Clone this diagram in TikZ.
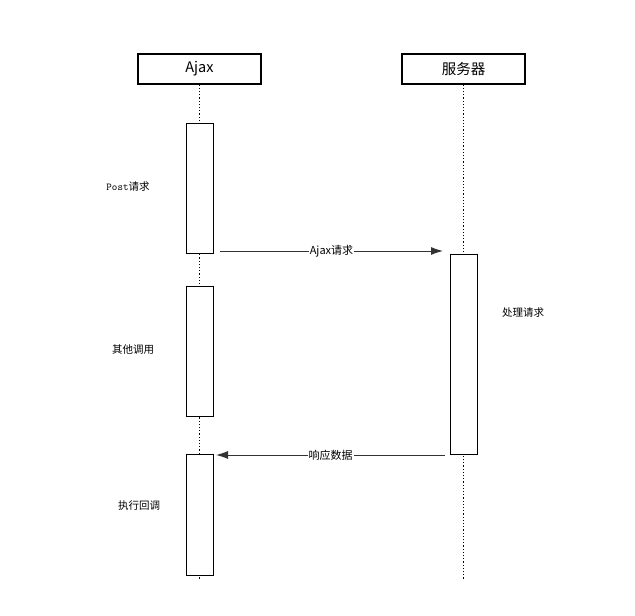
\documentclass[tikz,border=0pt]{standalone}
\usepackage{fontspec}
\newfontfamily\cjk{Noto Sans CJK SC}
\usetikzlibrary{arrows.meta}
\begin{document}
\begin{tikzpicture}[x=1pt,y=-1pt,
  head/.style={draw,line width=1.2pt,minimum width=123pt,minimum height=30pt,inner sep=0pt,font=\fontsize{14.5}{16}\selectfont\cjk},
  act/.style={draw,line width=1pt,fill=white,minimum width=27pt,inner sep=0pt},
  life/.style={line width=1.2pt,dotted},
  msg/.style={line width=1pt,-{Latex[length=12pt,width=8pt]},draw=black!80},
  mlab/.style={fill=white,inner sep=1pt,font=\fontsize{11}{13}\selectfont\cjk},
  note/.style={font=\fontsize{10.5}{13}\selectfont\cjk}]
\useasboundingbox (0,0) rectangle (635,616);
\node[head] (ha) at (199.5,69) {Ajax};
\node[head] (hs) at (463.5,69) {服务器};
\coordinate (ea) at (199.5,580);
\coordinate (es) at (463.5,580);
\draw[life] (ha.south) -- (ea);
\draw[life] (hs.south) -- (es);
\node[act,minimum height=130pt] (a1) at (199.5,188) {};
\node[act,minimum height=130pt] (a2) at (199.5,351) {};
\node[act,minimum height=121pt] (a3) at (199.5,514.5) {};
\node[act,minimum height=200pt] (s1) at (463.5,354) {};
\coordinate (m1s) at (220,251);
\coordinate (m1e) at (443,251);
\coordinate (m2s) at (445,455);
\coordinate (m2e) at (216,455);
\draw[msg] (m1s) -- node[mlab] (l1) {Ajax请求} (m1e);
\draw[msg] (m2s) -- node[mlab] (l2) {响应数据} (m2e);
\node[note] (n1) at (128,187) {{\ttfamily Post}请求};
\node[note] (n2) at (133,350) {其他调用};
\node[note] (n3) at (523,313) {处理请求};
\node[note] (n4) at (139,506) {执行回调};
\end{tikzpicture}
\end{document}
